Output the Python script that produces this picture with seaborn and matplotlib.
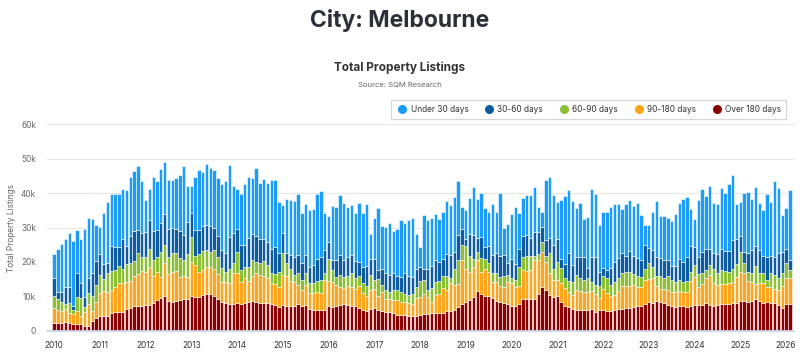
import numpy as np
import pandas as pd
import seaborn as sns
import matplotlib.pyplot as plt
from matplotlib.lines import Line2D
from matplotlib.ticker import FuncFormatter

sns.set_theme(style="white")
plt.rcParams['font.family'] = ['Inter', 'DejaVu Sans']

# monthly listings (thousands), Jan 2010 .. Feb 2026
years = list(range(2010, 2027))
buckets = ['Under 30 days', '30-60 days', '60-90 days', '90-180 days', 'Over 180 days']
colors = ['#1c9bf7', '#0d5ca3', '#8cbf34', '#ffa41b', '#8b0000']

over_180 = [
    2.4, 2.2, 2.4, 2.7, 2.4, 2.0, 1.9, 1.9, 1.3, 1.5, 3.0, 3.6,
    4.2, 4.2, 4.3, 5.3, 5.5, 5.4, 5.5, 6.3, 6.5, 7.1, 7.3, 7.3,
    7.5, 7.5, 8.2, 9.0, 9.5, 10.2, 8.8, 8.5, 8.8, 9.0, 9.2, 9.3,
    10.1, 9.9, 9.7, 10.4, 10.7, 10.7, 10.2, 9.3, 8.5, 8.0, 7.8, 7.8,
    8.2, 7.8, 8.0, 8.5, 8.8, 8.3, 8.0, 8.2, 8.2, 7.8, 7.5, 6.9,
    7.5, 7.3, 7.1, 7.2, 7.7, 7.1, 7.5, 6.3, 6.1, 6.1, 6.1, 6.1,
    7.1, 6.9, 7.2, 7.5, 7.8, 7.5, 7.2, 7.1, 6.6, 6.1, 5.9, 6.3,
    6.6, 6.1, 5.9, 5.6, 5.4, 5.3, 4.6, 4.6, 4.6, 4.2, 4.3, 4.4,
    4.6, 4.8, 4.8, 5.1, 5.1, 5.3, 5.1, 5.8, 5.8, 6.1, 6.8, 7.8,
    8.5, 9.0, 9.9, 11.7, 10.7, 10.2, 10.2, 9.5, 8.8, 8.5, 8.0, 7.8,
    7.3, 7.3, 7.8, 9.2, 9.2, 9.2, 9.2, 10.6, 12.8, 11.9, 10.4, 9.9,
    10.1, 8.5, 7.2, 6.9, 6.3, 6.1, 6.1, 6.1, 6.1, 6.3, 5.6, 6.1,
    6.1, 5.8, 5.9, 6.1, 6.4, 6.3, 6.6, 6.6, 6.9, 7.1, 7.3, 7.8,
    8.5, 8.2, 8.8, 8.3, 8.2, 7.5, 7.1, 6.8, 7.2, 7.1, 6.9, 7.1,
    7.5, 7.5, 7.5, 8.0, 7.5, 7.2, 7.5, 7.8, 7.7, 7.8, 8.0, 8.2,
    8.8, 8.8, 8.5, 8.8, 9.3, 8.8, 8.2, 8.5, 8.0, 8.0, 7.5, 6.5,
    7.7, 7.7,
]
d90_180 = [
    4.1, 3.9, 3.4, 3.6, 2.7, 2.8, 4.0, 2.4, 4.3, 6.3, 2.8, 4.7,
    6.8, 7.5, 7.1, 6.6, 7.3, 8.4, 8.3, 8.0, 8.1, 8.9, 9.1, 10.1,
    9.7, 11.1, 7.7, 8.2, 6.0, 9.4, 7.7, 8.7, 8.7, 6.5, 6.8, 6.4,
    9.9, 9.2, 7.5, 7.4, 7.7, 7.9, 7.9, 7.2, 5.8, 6.1, 6.2, 8.9,
    8.5, 6.5, 7.2, 6.1, 7.0, 8.4, 8.2, 7.7, 7.0, 6.2, 6.0, 5.8,
    8.7, 8.6, 7.5, 7.0, 5.6, 4.8, 5.8, 4.8, 5.0, 5.3, 4.8, 8.7,
    7.5, 7.4, 6.1, 5.1, 4.5, 5.5, 5.5, 5.0, 6.3, 5.0, 4.3, 5.6,
    5.5, 4.1, 5.5, 3.6, 3.8, 3.6, 4.3, 3.9, 3.9, 3.9, 3.5, 5.0,
    5.3, 5.8, 5.1, 3.4, 5.3, 5.4, 7.2, 6.1, 8.0, 7.2, 6.9, 12.8,
    9.5, 8.0, 8.7, 8.9, 6.5, 7.9, 6.8, 4.8, 5.5, 4.5, 4.8, 6.5,
    6.5, 5.5, 5.2, 8.5, 8.2, 8.5, 11.4, 10.1, 10.1, 8.2, 6.3, 4.8,
    4.8, 5.5, 5.1, 4.5, 4.2, 5.8, 5.6, 5.3, 5.3, 5.3, 5.0, 3.4,
    6.0, 5.1, 4.1, 4.2, 5.2, 6.8, 6.3, 6.5, 6.5, 5.5, 5.3, 7.0,
    6.5, 7.0, 4.3, 3.8, 3.9, 4.3, 4.3, 4.6, 4.4, 4.3, 4.5, 7.4,
    8.2, 5.3, 6.0, 7.2, 8.7, 6.8, 5.8, 5.8, 5.8, 6.2, 6.2, 7.5,
    8.2, 8.0, 6.0, 5.5, 4.3, 5.2, 5.8, 4.1, 4.6, 4.1, 4.4, 6.5,
    7.5, 7.7,
]
d60_90 = [
    3.7, 3.2, 2.7, 1.5, 3.1, 1.2, 3.9, 5.1, 1.4, 3.1, 4.2, 4.9,
    5.3, 3.3, 5.3, 5.6, 4.8, 5.1, 4.3, 5.0, 5.2, 4.2, 6.1, 3.9,
    4.2, 5.1, 4.6, 4.2, 7.5, 5.3, 5.0, 5.3, 5.0, 5.6, 4.6, 6.5,
    7.1, 2.6, 5.0, 5.4, 5.0, 4.3, 5.3, 4.8, 3.9, 3.1, 3.9, 2.9,
    6.3, 3.4, 3.4, 3.9, 4.8, 3.4, 3.4, 4.4, 3.9, 2.7, 3.0, 4.3,
    6.3, 3.7, 3.3, 1.9, 3.4, 2.9, 3.4, 2.9, 2.7, 3.1, 3.9, 2.1,
    6.2, 3.4, 2.4, 3.6, 3.4, 2.9, 4.1, 3.2, 2.9, 2.7, 2.9, 4.3,
    2.7, 4.8, 1.9, 2.7, 2.2, 2.9, 2.9, 2.9, 2.2, 2.4, 2.9, 3.4,
    4.6, 4.2, 1.9, 3.9, 3.9, 3.8, 3.6, 4.1, 1.4, 4.8, 6.8, 4.3,
    6.5, 4.7, 2.4, 2.4, 3.9, 2.9, 2.6, 2.4, 2.4, 2.7, 3.1, 1.9,
    1.6, 2.1, 5.6, 3.6, 4.3, 3.9, 1.2, 1.5, 2.9, 1.6, 6.0, 3.4,
    5.1, 4.2, 2.9, 3.1, 3.6, 4.3, 3.6, 3.4, 3.9, 2.7, 2.7, 3.4,
    3.7, 4.3, 3.4, 3.8, 3.7, 3.7, 4.1, 3.9, 3.1, 3.4, 3.1, 3.1,
    4.8, 3.4, 2.9, 3.7, 3.2, 4.1, 3.4, 2.9, 3.1, 2.9, 3.2, 2.7,
    3.4, 3.7, 3.4, 2.6, 2.9, 3.9, 3.4, 4.1, 4.0, 3.2, 3.9, 3.7,
    6.0, 2.9, 2.7, 2.4, 5.2, 2.9, 2.9, 2.3, 4.1, 4.1, 3.4, 3.7,
    4.5, 2.2,
]
d30_60 = [
    5.1, 2.1, 2.9, 5.0, 4.6, 1.2, 7.0, 4.5, 2.9, 4.5, 6.8, 7.2,
    6.1, 4.4, 2.9, 7.0, 6.8, 5.5, 8.7, 5.4, 7.7, 8.9, 6.8, 7.0,
    7.4, 8.4, 8.4, 7.9, 8.2, 9.0, 8.2, 7.5, 7.2, 7.9, 7.2, 9.5,
    7.2, 7.5, 7.2, 7.1, 7.2, 7.5, 6.5, 6.2, 5.3, 5.3, 9.3, 8.7,
    6.5, 7.1, 6.3, 8.4, 7.4, 7.4, 7.2, 6.5, 6.8, 7.2, 7.9, 5.6,
    5.8, 2.9, 4.1, 5.3, 5.3, 5.0, 5.3, 4.6, 5.3, 6.3, 6.5, 6.6,
    5.1, 2.9, 4.8, 5.8, 5.0, 5.6, 5.1, 5.1, 4.3, 4.8, 5.6, 4.8,
    6.0, 2.7, 4.8, 5.0, 4.8, 5.0, 4.1, 4.3, 6.0, 5.3, 5.0, 5.3,
    3.9, 3.1, 6.3, 6.3, 6.3, 5.6, 5.1, 6.4, 6.8, 4.8, 7.4, 4.6,
    2.2, 6.4, 6.8, 3.9, 6.1, 3.4, 5.0, 5.3, 5.8, 6.0, 6.1, 3.4,
    5.6, 4.6, 5.3, 6.1, 6.1, 5.3, 6.8, 6.5, 4.3, 4.6, 4.2, 6.8,
    6.8, 2.6, 4.3, 8.2, 5.1, 5.1, 6.1, 6.6, 2.9, 7.1, 8.0, 4.3,
    2.4, 2.4, 4.8, 5.8, 5.8, 5.8, 4.6, 6.1, 5.3, 5.1, 5.0, 7.1,
    4.2, 4.8, 5.4, 5.3, 5.3, 4.6, 3.9, 4.5, 6.3, 5.8, 6.8, 7.5,
    5.3, 5.0, 6.1, 5.9, 4.8, 4.6, 5.5, 6.0, 5.8, 6.1, 8.4, 7.4,
    4.5, 3.1, 5.3, 6.8, 5.8, 6.6, 4.8, 6.4, 5.0, 5.3, 7.2, 6.3,
    4.2, 3.1,
]
under_30 = [
    7.0, 12.4, 13.9, 14.0, 15.5, 18.8, 12.5, 12.8, 19.8, 17.3, 15.7, 10.3,
    7.7, 14.7, 17.7, 15.2, 15.2, 15.2, 14.5, 16.3, 17.2, 17.2, 18.5, 15.2,
    9.2, 9.0, 15.8, 14.2, 15.7, 15.2, 14.2, 13.9, 14.7, 16.2, 20.0, 10.4,
    7.6, 15.5, 17.4, 15.7, 17.7, 16.9, 16.7, 16.9, 19.1, 21.0, 20.9, 13.7,
    11.6, 14.8, 17.6, 17.7, 16.5, 19.9, 16.1, 17.4, 16.9, 20.0, 19.5, 14.7,
    8.2, 15.9, 16.0, 16.2, 17.7, 14.5, 14.7, 16.6, 16.4, 18.8, 19.3, 10.6,
    7.4, 15.5, 15.5, 17.4, 16.4, 14.5, 14.5, 13.7, 17.1, 15.5, 18.2, 7.2,
    11.9, 17.9, 12.3, 13.3, 15.2, 12.1, 13.8, 16.6, 14.7, 16.4, 17.1, 10.1,
    6.0, 15.6, 14.0, 14.2, 13.2, 12.3, 13.5, 15.2, 14.5, 15.9, 15.7, 6.5,
    8.4, 10.5, 14.0, 11.3, 12.8, 11.4, 9.9, 14.8, 12.1, 18.2, 7.9, 11.4,
    12.8, 16.4, 10.3, 11.1, 11.6, 12.6, 13.1, 7.2, 4.3, 17.6, 17.7, 14.5,
    10.6, 17.2, 19.6, 18.2, 18.4, 14.5, 15.8, 11.0, 14.8, 19.7, 18.5, 13.5,
    16.2, 16.9, 17.7, 17.0, 15.8, 12.8, 15.3, 14.8, 14.3, 16.1, 12.8, 5.8,
    6.8, 11.1, 16.4, 12.1, 12.6, 12.4, 13.2, 15.0, 16.2, 18.1, 17.4, 10.8,
    8.2, 16.6, 18.3, 15.5, 18.1, 14.5, 14.7, 17.9, 16.8, 19.3, 18.6, 10.1,
    10.0, 17.2, 17.8, 14.8, 17.1, 13.5, 13.5, 18.5, 15.7, 22.0, 19.1, 10.6,
    11.8, 20.1,
]

series = [under_30, d30_60, d60_90, d90_180, over_180]
n = len(under_30)
frames = []
for name, vals in zip(buckets, series):
    frames.append(pd.DataFrame({
        'month': np.arange(n),
        'bucket': name,
        'listings': np.array(vals) * 1000,
    }))
df = pd.concat(frames, ignore_index=True)

fig = plt.figure(figsize=(8, 3.64), dpi=100)
ax = fig.add_axes([0.059, 0.091, 0.934, 0.568])

# stacked monthly columns, first hue level ends up on top
sns.histplot(data=df, x='month', weights='listings', hue='bucket',
             hue_order=buckets, palette=colors, multiple='stack',
             discrete=True, shrink=0.88, alpha=1, edgecolor='white',
             linewidth=0.4, legend=False, ax=ax)

ax.set_xlim(-1.8, 194.2)
ax.set_ylim(0, 60000)
ax.set_yticks(range(0, 60001, 10000))
ax.yaxis.set_major_formatter(FuncFormatter(lambda v, p: '0' if v == 0 else f'{int(v / 1000)}k'))
ax.set_xticks(np.arange(0, 12 * len(years), 12))
ax.set_xticklabels([str(y) for y in years])
ax.yaxis.grid(True, color='#e6e6e6', linewidth=0.8)
ax.set_axisbelow(True)
for s in ['left', 'right', 'top']:
    ax.spines[s].set_visible(False)
ax.spines['bottom'].set_color('#ccd6eb')
ax.tick_params(axis='x', direction='out', length=5, color='#ccd6eb', labelsize=6, labelcolor='#333333', pad=2)
ax.tick_params(axis='y', length=0, labelsize=6, labelcolor='#666666', pad=8)
ax.set_xlabel('')
ax.set_ylabel('Total Property Listings', fontsize=6, color='#666666')
ax.yaxis.set_label_coords(-0.042, 0.5)

fig.text(0.5, 0.945, 'City: Melbourne', ha='center', va='center', fontsize=16.5, fontweight='bold', color='#2b2f38')
fig.text(0.5, 0.813, 'Total Property Listings', ha='center', va='center', fontsize=8.5, fontweight='bold', color='#333333')
fig.text(0.5, 0.769, 'Source: SQM Research', ha='center', va='center', fontsize=5.5, color='#666666')

handles = [Line2D([0], [0], marker='o', linestyle='', markerfacecolor=c, markeredgecolor=c,
                  markersize=5.5, label=b) for b, c in zip(buckets, colors)]
leg = fig.legend(handles=handles, loc='upper right', bbox_to_anchor=(0.988, 0.736), ncol=5,
                 fontsize=6, frameon=True, fancybox=False, edgecolor='#cccccc',
                 handletextpad=0.3, columnspacing=1.8, borderpad=0.6, handlelength=1.4)
leg.get_frame().set_linewidth(0.8)
for t in leg.get_texts():
    t.set_color('#333333')

fig.savefig('out.png', dpi=100)
